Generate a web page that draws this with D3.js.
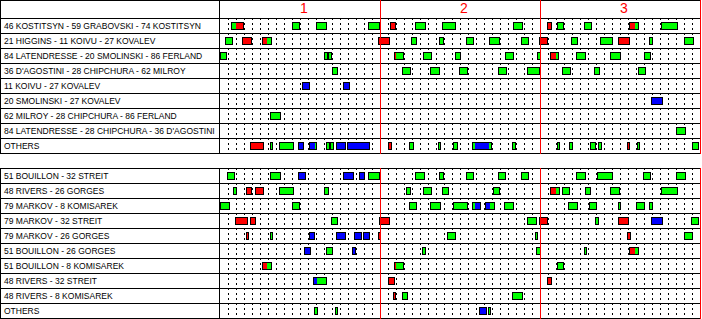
<!DOCTYPE html>
<html>
<head>
<meta charset="utf-8">
<script src="https://cdn.jsdelivr.net/npm/d3@7"></script>
<style>
  html, body { margin: 0; padding: 0; background: #fff; }
  svg { display: block; }
</style>
</head>
<body>
<div id="chart"></div>
<script>
// ---- DATA (times in game minutes; each shift = [start, type, (split, type,)* end]) ----
const periods = ["1", "2", "3"];

const topLabels = [
  "46 KOSTITSYN - 59 GRABOVSKI - 74 KOSTITSYN",
  "21 HIGGINS - 11 KOIVU - 27 KOVALEV",
  "84 LATENDRESSE - 20 SMOLINSKI - 86 FERLAND",
  "36 D'AGOSTINI - 28 CHIPCHURA - 62 MILROY",
  "11 KOIVU - 27 KOVALEV",
  "20 SMOLINSKI - 27 KOVALEV",
  "62 MILROY - 28 CHIPCHURA - 86 FERLAND",
  "84 LATENDRESSE - 28 CHIPCHURA - 36 D'AGOSTINI",
  "OTHERS"
];

const bottomLabels = [
  "51 BOUILLON - 32 STREIT",
  "48 RIVERS - 26 GORGES",
  "79 MARKOV - 8 KOMISAREK",
  "79 MARKOV - 32 STREIT",
  "79 MARKOV - 26 GORGES",
  "51 BOUILLON - 26 GORGES",
  "51 BOUILLON - 8 KOMISAREK",
  "48 RIVERS - 32 STREIT",
  "48 RIVERS - 8 KOMISAREK",
  "OTHERS"
];

// g = even strength (green), r = red, b = blue
const topShifts = [
  [[1.38,"g",1.96,"r",2.96],[9.04,"g",10.0],[12.04,"g",13.34],[18.54,"g",19.96],[21.29,"r",21.96],
   [24.41,"g",25.71],[27.79,"g",29.46],[36.66,"g",37.88],[40.91,"r",41.46],[42.16,"g",43.0],
   [45.54,"g",46.46],[51.16,"r",51.88,"g",52.34],[55.16,"g",57.21]],
  [[0.66,"g",1.59],[2.79,"r",3.96],[5.29,"r",5.88,"g",6.46],[19.79,"r",21.21],[23.88,"g",24.59],
   [27.38,"g",27.96],[30.79,"g",31.71],[33.66,"g",34.96],[37.66,"g",38.59],[39.91,"r",41.04],
   [43.91,"g",44.71],[47.54,"g",49.09],[49.79,"r",51.29],[53.66,"g",54.09],[58.04,"g",59.21]],
  [[0,"g",0.91],[13.04,"g",13.54],[13.54,"g",14.04],[21.79,"r",21.96,"g",22.96],[25.41,"g",26.46],
   [29.41,"g",30.09],[35.66,"g",36.71],[39.66,"g",40.13],[41.29,"r",41.96,"g",42.34],
   [44.54,"g",45.71],[48.79,"g",50.09],[53.04,"g",53.84]],
  [[14.04,"g",14.71],[22.79,"g",23.84],[26.29,"g",27.46],[29.91,"g",30.96],[34.79,"g",35.84],
   [38.41,"g",39.96],[42.79,"g",43.84],[46.79,"g",47.46],[52.29,"g",53.21]],
  [[10.29,"b",11.29],[15.41,"b",16.21]],
  [[53.91,"b",55.34]],
  [[6.29,"g",7.59]],
  [[57.04,"g",58.21]],
  [[3.79,"r",5.46],[6.29,"g",6.59],[7.41,"g",9.21],[9.79,"b",10.46],[11.16,"b",11.88,"g",12.16],
   [13.29,"g",13.79],[13.79,"g",14.21],[14.54,"b",15.71],[15.91,"b",18.71],[21.04,"r",21.46],
   [23.66,"g",24.21],[27.25,"g",27.59],[29.16,"g",29.71],[31.54,"g",31.91,"b",33.63,"g",33.96],
   [36.5,"g",36.96],[42.13,"g",42.46],[43.63,"g",44.09],[46.25,"g",46.96],[47.25,"g",47.71],
   [50.88,"r",51.21],[52.13,"g",52.46],[59.0,"g",59.84]]
];

const bottomShifts = [
  [[0.91,"g",1.84],[6.29,"g",7.59],[9.75,"b",10.75],[15.41,"b",16.71],[17.41,"b",18.09],
   [18.54,"g",19.96],[24.41,"g",25.59],[27.38,"g",27.96],[30.79,"g",31.71],[34.79,"g",35.71],
   [37.66,"g",38.59],[44.54,"g",45.71],[47.16,"g",49.09],[52.91,"g",53.84],[57.04,"g",58.21]],
  [[1.63,"g",2.09],[3.25,"r",3.96],[4.38,"r",5.46],[7.38,"g",9.21],[13.04,"g",13.59],
   [23.29,"g",23.88],[25.41,"g",26.46],[27.79,"g",28.59],[34.16,"g",34.96],[41.29,"r",42.0,"g",42.46],
   [42.79,"g",43.71],[45.66,"g",46.34],[48.79,"g",50.0],[55.16,"g",57.21]],
  [[0,"g",1.21],[9.0,"g",10.0],[23.66,"g",24.59],[26.29,"g",27.59],[29.16,"g",30.96],
   [31.54,"g",31.84,"b",32.59],[33.16,"b",33.71,"g",34.34],[35.54,"g",36.71],[43.54,"g",44.71],
   [46.16,"g",47.09],[49.75,"g",50.09],[52.04,"g",53.09],[53.66,"g",54.09]],
  [[1.88,"r",3.46],[3.79,"r",4.54],[13.88,"g",14.71],[19.88,"r",21.21],[38.41,"g",39.59],
   [39.91,"r",41.04],[46.91,"g",47.34],[49.79,"r",51.09],[53.91,"b",55.34],[58.91,"g",59.84]],
  [[3.25,"r",3.63],[6.25,"g",6.59],[11.09,"b",11.84],[14.5,"b",15.71],[16.75,"b",17.71],
   [17.88,"b",18.71],[19.75,"r",20.13],[28.41,"g",29.46],[39.41,"g",39.71],[50.91,"r",51.34],
   [58.04,"g",59.09]],
  [[10.54,"b",11.34],[13.25,"g",14.09],[16.5,"b",17.0],[25.29,"g",25.71],[39.54,"g",40.13],
   [45.54,"g",45.84],[51.16,"r",51.88,"g",52.34]],
  [[5.29,"r",5.88,"g",6.46],[21.79,"r",21.96,"g",22.96],[42.16,"g",42.96]],
  [[11.66,"b",12.09,"g",13.34],[21.04,"r",21.84],[40.91,"r",41.46]],
  [[21.63,"r",21.96],[22.79,"g",23.46],[36.54,"g",37.84]],
  [[11.79,"g",12.21],[14.38,"g",14.71],[32.41,"b",33.34],[33.54,"g",33.84]]
];

// ---- RENDER ----
const W = 702, H = 319;
const colorOf = { g: "#00ff00", r: "#ff0000", b: "#0000ff" };

const svg = d3.select("#chart").append("svg")
  .attr("width", W).attr("height", H)
  .attr("shape-rendering", "crispEdges");

const x = d3.scaleLinear().domain([0, 60]).range([220, 700]);
const px = v => Math.round(v) + 0.5;

function segmentsOf(shift) {
  const segs = [];
  for (let i = 0; i + 2 < shift.length; i += 2) {
    segs.push({ s: shift[i], t: shift[i + 1], e: shift[i + 2] });
  }
  return segs;
}

function drawTable(labels, shifts, y0, top, withHeader) {
  const n = labels.length;
  const y = d3.scaleBand().domain(d3.range(n)).range([y0, y0 + 15 * n]);
  const yEnd = y0 + 15 * n;
  const g = svg.append("g");

  // dotted minute lines
  const minutes = d3.range(1, 60).filter(k => k % 20 !== 0);
  g.selectAll("line.dot").data(minutes).join("line")
    .attr("x1", k => px(x(k))).attr("x2", k => px(x(k)))
    .attr("y1", y0).attr("y2", yEnd)
    .attr("stroke", "#000").attr("stroke-width", 1)
    .attr("stroke-dasharray", "2,3");

  // horizontal row lines
  const rowsY = d3.range(n).map(i => y(i)).concat([yEnd]);
  if (withHeader) rowsY.unshift(top);
  g.selectAll("line.row").data(rowsY).join("line")
    .attr("x1", 0).attr("x2", 701)
    .attr("y1", d => px(d)).attr("y2", d => px(d))
    .attr("stroke", "#000");

  // shifts
  const rows = g.selectAll("g.r").data(shifts).join("g")
    .attr("transform", (d, i) => `translate(0,${y(i)})`);
  const sh = rows.selectAll("g.s").data(d => d).join("g");
  sh.selectAll("rect.seg").data(d => segmentsOf(d)).join("rect")
    .attr("x", d => x(d.s)).attr("width", d => Math.max(0, x(d.e) - x(d.s)))
    .attr("y", 4).attr("height", 8)
    .attr("fill", d => colorOf[d.t]);
  sh.append("rect")
    .attr("x", d => Math.round(x(d[0])) + 0.5)
    .attr("width", d => Math.max(1, Math.round(x(d[d.length - 1])) - Math.round(x(d[0])) - 1))
    .attr("y", 4.5).attr("height", 7)
    .attr("fill", "none").attr("stroke", "#000");

  // vertical borders
  [0, 219].forEach(xx => {
    g.append("line").attr("x1", xx + 0.5).attr("x2", xx + 0.5)
      .attr("y1", top).attr("y2", yEnd + 1).attr("stroke", "#000");
  });
  // period lines
  [20, 40, 60].forEach(m => {
    g.append("line").attr("x1", px(x(m))).attr("x2", px(x(m)))
      .attr("y1", top).attr("y2", yEnd + 1).attr("stroke", "#ff0000");
  });

  // labels
  g.selectAll("text.lab").data(labels).join("text")
    .attr("x", 4).attr("y", (d, i) => y(i) + 10.5)
    .attr("font-family", "'Liberation Sans', Arial, sans-serif")
    .attr("font-size", "8.5px")
    .attr("fill", "#000")
    .attr("shape-rendering", null)
    .text(d => d);
}

drawTable(topLabels, topShifts, 18, 0, true);
drawTable(bottomLabels, bottomShifts, 168, 168, false);

// period headers
svg.selectAll("text.per").data(periods).join("text")
  .attr("x", (d, i) => x(20 * i + 10.5))
  .attr("y", 12.5)
  .attr("text-anchor", "middle")
  .attr("font-family", "'Liberation Sans', Arial, sans-serif")
  .attr("font-size", "14px")
  .attr("fill", "#ff0000")
  .text(d => d);
</script>
</body>
</html>
